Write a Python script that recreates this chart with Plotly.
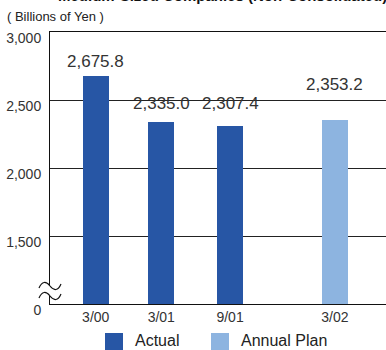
import plotly.graph_objects as go

# ---- data ----
periods = ["3/00", "3/01", "9/01", "3/02"]
x_pos = [0, 1, 2.05, 3.65]
values = [2675.8, 2335.0, 2307.4, 2353.2]
series = ["Actual", "Actual", "Actual", "Annual Plan"]
y_tick_vals = [1000, 1500, 2000, 2500, 3000]
y_tick_text = ["0", "1,500", "2,000", "2,500", "3,000"]

DARK = "#2756a5"
LIGHT = "#8db4e0"
colors = [DARK if s == "Actual" else LIGHT for s in series]
label_shift = [3, 7, 11, 24]

NARROW = "Liberation Sans Narrow, Arial Narrow, sans-serif"
SANS = "Liberation Sans, Arial, Helvetica, sans-serif"

fig = go.Figure()
fig.add_trace(go.Bar(
    x=x_pos, y=values, width=0.39, marker=dict(color=colors, line=dict(width=0)),
    showlegend=False, hoverinfo="skip",
))

annotations = []
for xv, v, dy in zip(x_pos, values, label_shift):
    annotations.append(dict(
        x=xv, y=v, xref="x", yref="y", text=f"{v:,.1f}", showarrow=False,
        yanchor="bottom", yshift=dy, font=dict(family=SANS, size=17, color="#333333"),
    ))


def px_x(p):
    return (p - 50) / 336


def px_y(p):
    return (304 - p) / 272


# title (cut at top) and unit label
annotations.append(dict(
    x=px_x(222), xref="paper", y=1, yref="paper",
    text="<b>Medium-Sized Companies (Non-Consolidated)</b>",
    showarrow=False, xanchor="center", yanchor="bottom", yshift=26,
    font=dict(family=NARROW, size=15, color="#111111"),
))
annotations.append(dict(
    x=0, xref="paper", y=1, yref="paper", text="( Billions of Yen )",
    showarrow=False, xanchor="left", yanchor="bottom", xshift=-45, yshift=6,
    font=dict(family=NARROW, size=13, color="#222222"),
))

# legend (custom)
shapes = []
for name, col, x0, tx in [("Actual", DARK, 105, 133), ("Annual Plan", LIGHT, 211, 239)]:
    shapes.append(dict(type="rect", xref="paper", yref="paper",
                       x0=px_x(x0), x1=px_x(x0 + 18), y0=px_y(351), y1=px_y(333),
                       fillcolor=col, line=dict(width=0)))
    annotations.append(dict(x=px_x(tx), y=px_y(340), xref="paper", yref="paper", text=name,
                            showarrow=False, xanchor="left", yanchor="middle",
                            font=dict(family=SANS, size=16, color="#222222")))

# axis break marks
shapes.append(dict(type="rect", xref="paper", yref="paper", x0=px_x(47), x1=px_x(54),
                   y0=px_y(296), y1=px_y(286), fillcolor="white", line=dict(width=0), layer="above"))
for yc in [286, 296]:
    shapes.append(dict(type="path", xref="paper", yref="paper", xsizemode="pixel", ysizemode="pixel",
                       xanchor=0, yanchor=px_y(yc),
                       path="M -11,-2 C -8,5 -4,5 0,0 C 4,-5 8,-5 11,2",
                       line=dict(color="#111111", width=1.2), layer="above"))

fig.update_layout(
    width=386, height=350,
    margin=dict(l=50, r=0, t=32, b=46),
    paper_bgcolor="white", plot_bgcolor="white",
    bargap=0,
    xaxis=dict(range=[-0.698, 4.43], tickvals=x_pos, ticktext=periods,
               showgrid=False, zeroline=False, showline=True, mirror=True,
               linecolor="#111111", linewidth=1, ticks="",
               tickfont=dict(family=NARROW, size=14, color="#333333"),
               fixedrange=True),
    yaxis=dict(range=[1000, 3000], tickvals=y_tick_vals, ticktext=y_tick_text,
               showgrid=True, gridcolor="#222222", gridwidth=1, zeroline=False,
               showline=True, linecolor="#111111", linewidth=1, ticks="",
               ticklabelshift=6, ticklabelstandoff=5,
               tickfont=dict(family=NARROW, size=14, color="#333333"),
               fixedrange=True),
    annotations=annotations,
    shapes=shapes,
    showlegend=False,
)

fig.write_html("out.html")
